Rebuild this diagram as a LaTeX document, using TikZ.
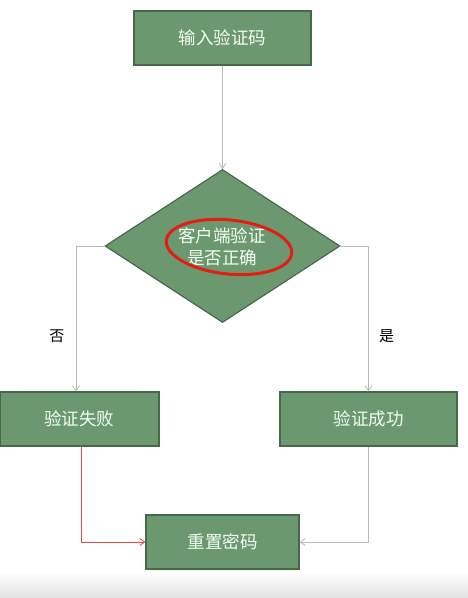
\documentclass[tikz,border=0pt]{standalone}
\usepackage{fontspec}
\newfontfamily\cjk{Noto Sans CJK SC}
\usetikzlibrary{shapes.geometric,arrows.meta,positioning}
\definecolor{boxgreen}{RGB}{108,152,112}
\definecolor{boxedge}{RGB}{72,104,76}
\definecolor{linegray}{RGB}{185,185,185}
\definecolor{penred}{RGB}{225,30,20}
\tikzset{
  stepbox/.style={draw=boxedge,line width=1.2pt,fill=boxgreen,text=white!95!green,minimum height=54pt,font=\cjk\fontsize{17.5}{21}\selectfont},
  flow/.style={draw=linegray,line width=0.8pt,-{Straight Barb[length=5pt,width=7pt]}}
}
\begin{document}
\begin{tikzpicture}[x=1pt,y=-1pt]
\useasboundingbox (0,0) rectangle (468,598);
\shade[top color=white,bottom color=black!12] (0,572) rectangle (468,598);
\node[stepbox,minimum width=177pt] (input) at (222.5,38) {输入验证码};
\node[diamond,draw=boxedge,line width=1.2pt,fill=boxgreen,minimum width=235pt,minimum height=153pt,inner sep=0pt,aspect=1.54] (check) at (222.5,246) {};
\node[text=white!95!green,font=\cjk\fontsize{17.5}{22}\selectfont,align=center] (checktext) at (222,247) {客户端验证\\是否正确};
\node[stepbox,minimum width=159pt] (fail) at (79.5,419) {验证失败};
\node[stepbox,minimum width=177pt] (ok) at (368.5,419) {验证成功};
\node[stepbox,minimum width=153pt] (reset) at (222.5,542) {重置密码};
\draw[penred,line width=3pt,rotate around={-6:(229,247)}] (229,247) ellipse [x radius=63pt,y radius=27pt];
\draw[flow] (input) -- (check);
\draw[flow] (check.west) -| node[pos=0.81,left=8pt,text=black,font=\cjk\fontsize{15}{17}\selectfont] {否} ([xshift=-3.5pt]fail.north);
\draw[flow] (check.east) -| node[pos=0.81,right=7pt,text=black,font=\cjk\fontsize{15}{17}\selectfont] {是} (ok.north);
\draw[flow,draw=penred!80!white] ([xshift=1.5pt]fail.south) |- (reset.west);
\draw[flow] (ok.south) |- (reset.east);
\end{tikzpicture}
\end{document}
